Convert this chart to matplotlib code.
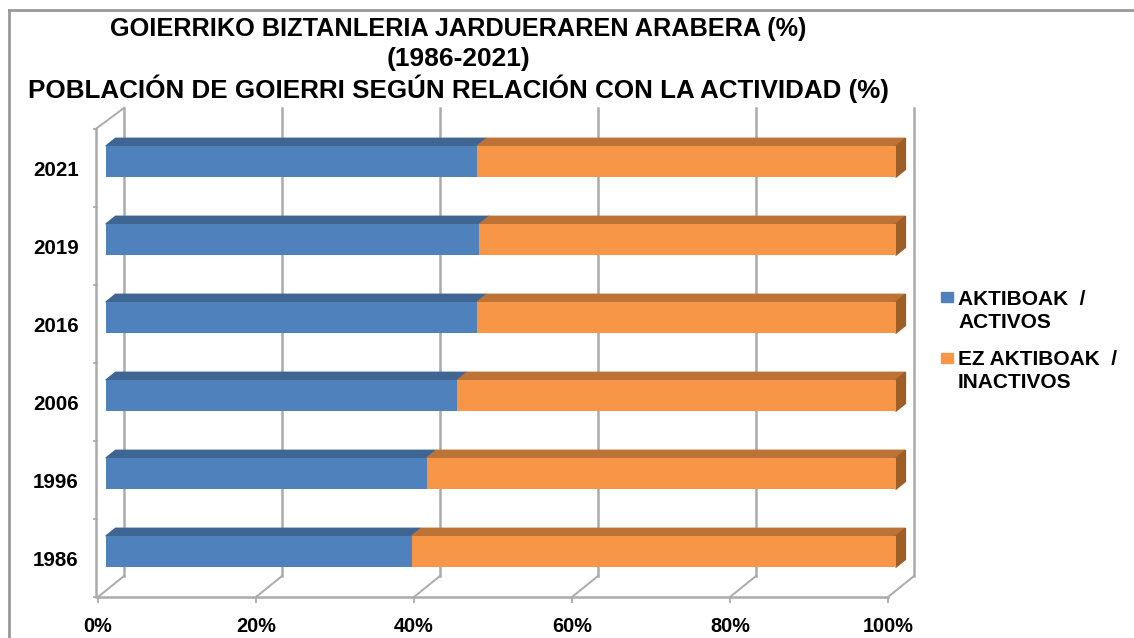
import numpy as np
import matplotlib
matplotlib.use('Agg')
import matplotlib.pyplot as plt
from matplotlib.patches import Polygon, Rectangle
from matplotlib.lines import Line2D

plt.rcParams['font.family'] = ['Liberation Sans', 'DejaVu Sans']
plt.rcParams['font.weight'] = 'bold'

# datos
years = ['1986', '1996', '2006', '2016', '2019', '2021']
activos = [38.7, 40.6, 44.5, 47.0, 47.3, 47.0]
inactivos = [61.3, 59.4, 55.5, 53.0, 52.7, 53.0]
series = ['AKTIBOAK  /\nACTIVOS', 'EZ AKTIBOAK  /\nINACTIVOS']
xticks = [0, 20, 40, 60, 80, 100]
xlabels = ['0%', '20%', '40%', '60%', '80%', '100%']
titles = ['GOIERRIKO BIZTANLERIA JARDUERAREN ARABERA (%)',
          '(1986-2021)',
          'POBLACIÓN DE GOIERRI SEGÚN RELACIÓN CON LA ACTIVIDAD (%)']

front = ['#4F81BD', '#F79646']
top = ['#3F6593', '#BD7335']
side = '#9E5E28'
grid = '#ababab'

W, H = 1134, 638
fig = plt.figure(figsize=(W / 100, H / 100), dpi=100)
ax = fig.add_axes([98 / W, 41 / H, 790 / W, 468 / H])
ax.set_xlim(0, 100)
ax.set_ylim(-0.5, 5.5)
for s in ax.spines.values():
    s.set_visible(False)

# profundidad del "3D"
DX, DY = 3.3, 0.27

# paredes y suelo
for t in xticks:
    ax.plot([t + DX, t + DX], [-0.5 + DY, 5.5 + DY], color=grid, lw=1.8, clip_on=False, zorder=1)
    ax.plot([t, t + DX], [-0.5, -0.5 + DY], color=grid, lw=1.4, clip_on=False, zorder=1)
ax.plot([0, 100], [-0.5, -0.5], color=grid, lw=1.8, clip_on=False, zorder=1)
ax.plot([-0.3, -0.3], [-0.5, 5.5], color=grid, lw=1.8, clip_on=False, zorder=1)
ax.plot([-0.3, DX], [5.5, 5.5 + DY], color=grid, lw=1.4, clip_on=False, zorder=1)

# barras
y = np.arange(len(years))
d0x, d0y = 0.3 * DX, 0.3 * DY
bdx, bdy = 0.37 * DX, 0.37 * DY
h = 0.4
left = np.zeros(len(years))
for k, vals in enumerate([activos, inactivos]):
    vals = np.array(vals)
    ax.barh(y + d0y, vals, left=left + d0x, height=h, color=front[k], zorder=3, clip_on=False)
    for yi, l, w in zip(y, left, vals):
        x0 = l + d0x
        x1 = x0 + w
        yt = yi + d0y + h / 2
        ax.add_patch(Polygon([(x0, yt), (x1, yt), (x1 + bdx, yt + bdy), (x0 + bdx, yt + bdy)],
                             closed=True, color=top[k], zorder=2.9, clip_on=False))
    left = left + vals

for yi, tot in zip(y, left):
    x1 = tot + d0x
    yb = yi + d0y - h / 2
    yt = yi + d0y + h / 2
    ax.add_patch(Polygon([(x1, yb), (x1, yt), (x1 + bdx, yt + bdy), (x1 + bdx, yb + bdy)],
                         closed=True, color=side, zorder=2.9, clip_on=False))

# ejes
ax.set_xticks(xticks, xlabels, fontsize=14.3, fontweight='bold')
ax.tick_params(axis='x', length=4.3, width=1.3, color=grid, pad=10)
ax.set_yticks(y, years, fontsize=14.8, fontweight='bold')
ax.set_yticks(np.arange(-0.5, 6, 1), minor=True)
ax.tick_params(axis='y', which='major', length=0, pad=14)
ax.tick_params(axis='y', which='minor', length=3.5, width=1.3, color=grid)

# titulo
for txt, yc, fs in zip(titles, [29, 59, 89], [18.2, 19, 18.7]):
    fig.text(458 / W, 1 - yc / H, txt, ha='center', va='center', fontsize=fs, fontweight='bold')

# leyenda
for k, (name, yc) in enumerate(zip(series, [299, 360])):
    fig.add_artist(Rectangle((941 / W, 1 - (yc + 3) / H), 12 / W, 10 / H,
                             transform=fig.transFigure, color=front[k]))
    for j, line in enumerate(name.split('\n')):
        fig.text(958 / W, 1 - (yc + 23 * j) / H, line, ha='left', va='center',
                 fontsize=15, fontweight='bold')

# borde
fig.add_artist(Line2D([8.5 / W, 1], [1 - 9.5 / H, 1 - 9.5 / H], transform=fig.transFigure,
                      color='#999999', lw=2))
fig.add_artist(Line2D([8.5 / W, 8.5 / W], [0, 1 - 9.5 / H], transform=fig.transFigure,
                      color='#999999', lw=2))

fig.savefig('out.png', dpi=100)
